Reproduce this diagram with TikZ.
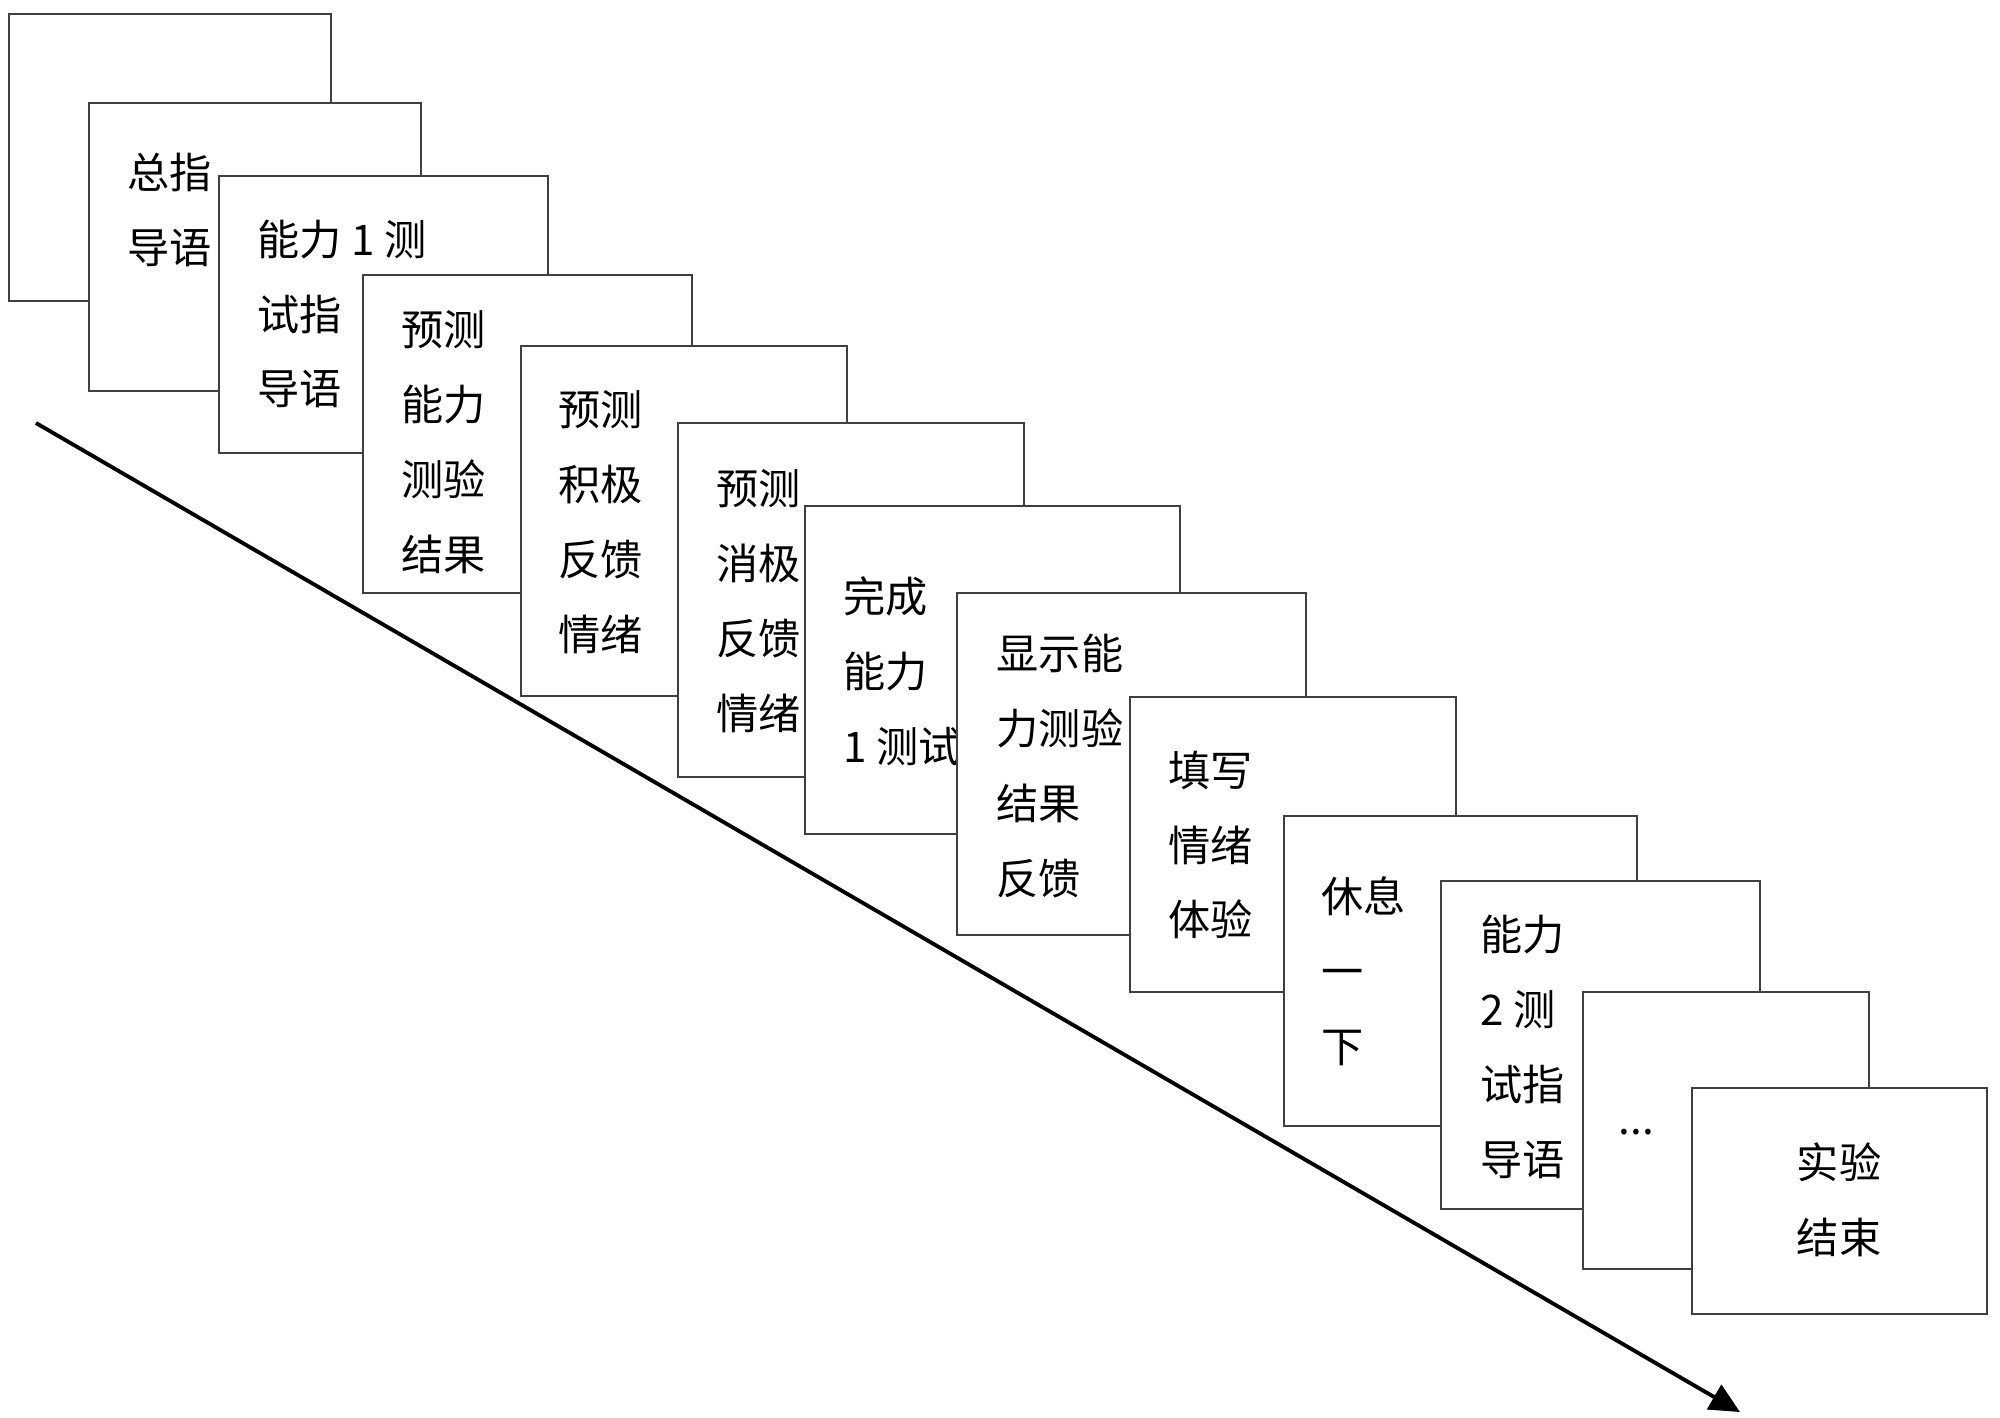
\documentclass[tikz,border=0pt]{standalone}
\usepackage{fontspec}
\setmainfont{Noto Sans CJK SC}
\usepackage{tikz}
\usetikzlibrary{arrows.meta, fit}
\usepackage{xcolor}
\definecolor{boxline}{RGB}{64,64,64}

\begin{document}
\begin{tikzpicture}[x=0.01cm, y=-0.01cm,
    screen/.style={draw=boxline, line width=0.6pt, fill=white, inner sep=0pt},
    words/.style={font=\fontsize{12}{21.3}\selectfont, align=left, inner sep=0pt, anchor=west}]
    \useasboundingbox (0,0) rectangle (2000,1417);

    % 空白屏
    \node[screen, fit={(9,14) (331,301)}] (s1) {};

    % 总指导语
    \node[screen, fit={(89,103) (421,391)}] (s2) {};
    \node[words] (t2) at (127,209.5) {总指\\导语};

    % 能力1测试指导语
    \node[screen, fit={(219,176) (548,453)}] (s3) {};
    \node[words] (t3) at (257,314) {能力 1 测\\试指\\导语};

    % 预测能力测验结果
    \node[screen, fit={(363,275) (692,593)}] (s4) {};
    \node[words] (t4) at (401,442.5) {预测\\能力\\测验\\结果};

    % 预测积极反馈情绪
    \node[screen, fit={(521,346) (847,696)}] (s5) {};
    \node[words] (t5) at (558,522.5) {预测\\积极\\反馈\\情绪};

    % 预测消极反馈情绪
    \node[screen, fit={(678,423) (1024,777)}] (s6) {};
    \node[words] (t6) at (716,601.5) {预测\\消极\\反馈\\情绪};

    % 完成能力1测试
    \node[screen, fit={(805,506) (1180,834)}] (s7) {};
    \node[words] (t7) at (843,671.5) {完成\\能力\\1 测试};

    % 显示能力测验结果反馈
    \node[screen, fit={(957,593) (1306,935)}] (s8) {};
    \node[words] (t8) at (996,766) {显示能\\力测验\\结果\\反馈};

    % 填写情绪体验
    \node[screen, fit={(1130,697) (1456,992)}] (s9) {};
    \node[words] (t9) at (1168,845) {填写\\情绪\\体验};

    % 休息一下
    \node[screen, fit={(1284,816) (1637,1126)}] (s10) {};
    \node[words] (t10) at (1321,971.5) {休息\\一\\下};

    % 能力2测试指导语
    \node[screen, fit={(1441,881) (1760,1209)}] (s11) {};
    \node[words] (t11) at (1480,1047) {能力\\2 测\\试指\\导语};

    % ...
    \node[screen, fit={(1583,992) (1869,1269)}] (s12) {};
    \node[words, anchor=base west] (t12) at (1618,1134) {...};

    % 实验结束
    \node[screen, fit={(1692,1088) (1987,1314)}] (s13) {};
    \node[words, align=center, anchor=center] (t13) at (1839,1200) {实验\\结束};

    % 时间轴
    \coordinate (start) at (36,423);
    \coordinate (end) at (1740,1412);
    \draw[line width=1.1pt, -{Triangle[length=0.3cm, width=0.28cm]}] (start) -- (end);
\end{tikzpicture}
\end{document}
